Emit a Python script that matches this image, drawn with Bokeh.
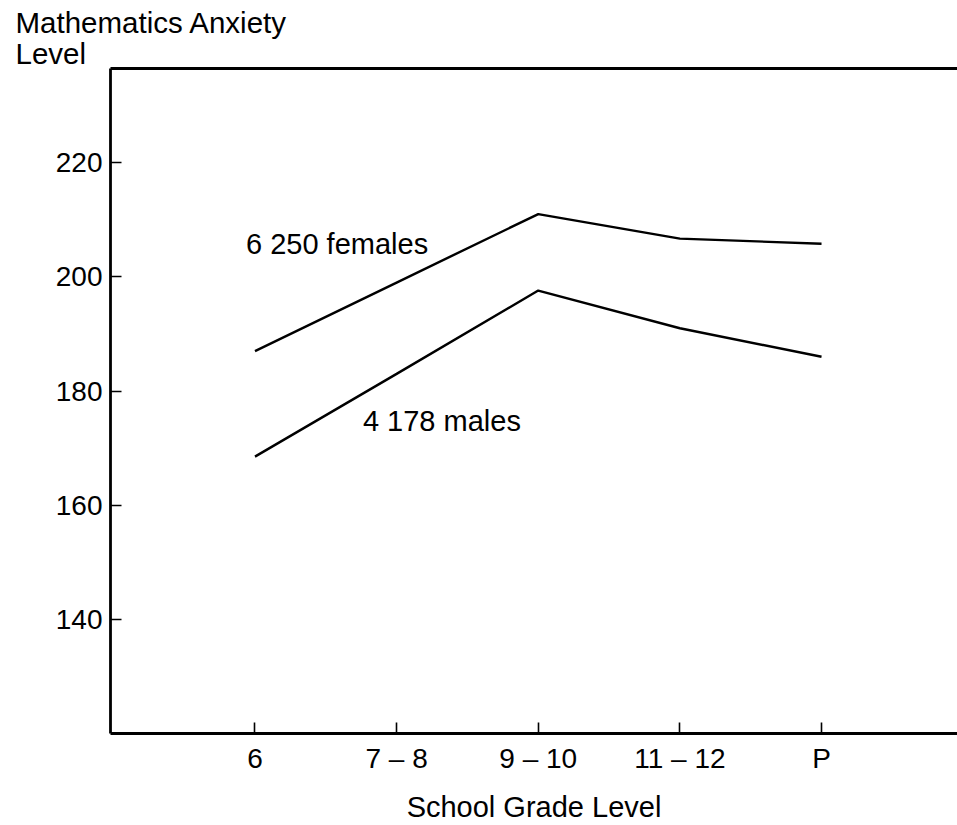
from bokeh.plotting import figure
from bokeh.models import Range1d, FixedTicker, LinearAxis, Label
from bokeh.embed import file_html
from bokeh.resources import INLINE

grades = ["6", "7 – 8", "9 – 10", "11 – 12", "P"]
females = [187, 199, 211, 206.7, 205.8]
males = [168.5, 183, 197.6, 191, 186]
y_ticks = [140, 160, 180, 200, 220]
female_label = "6 250 females"
male_label = "4 178 males"
y_title = "Mathematics Anxiety\nLevel"

FONT = "Liberation Sans"
xs = list(range(len(grades)))
X0, X1, Y0, Y1 = -1.02, 4.96, 120, 236.5

p = figure(width=957, height=825, output_backend="svg", toolbar_location=None,
           x_range=Range1d(X0, X1), y_range=Range1d(Y0, Y1),
           min_border_left=110, min_border_right=0, min_border_top=68, min_border_bottom=92)
p.grid.visible = False
p.outline_line_color = None
p.background_fill_color = "white"
p.border_fill_color = "white"

p.line(xs, females, line_color="black", line_width=2.4)
p.line(xs, males, line_color="black", line_width=2.4)

for ax in (p.xaxis[0], p.yaxis[0]):
    ax.axis_line_width = 2.8
    ax.axis_line_color = "black"
    ax.major_tick_in = 11
    ax.major_tick_out = 0
    ax.major_tick_line_width = 1.6
    ax.major_tick_line_color = "black"
    ax.minor_tick_line_color = None
    ax.major_label_text_font = FONT
    ax.major_label_text_font_size = "28px"
    ax.major_label_text_color = "black"

p.xaxis.ticker = FixedTicker(ticks=xs)
p.xaxis.major_label_overrides = {i: g for i, g in enumerate(grades)}
p.xaxis.major_label_standoff = 9
p.xaxis.axis_label = "School Grade Level"
p.xaxis.axis_label_text_font = FONT
p.xaxis.axis_label_text_font_style = "normal"
p.xaxis.axis_label_text_font_size = "29px"
p.xaxis.axis_label_text_color = "black"
p.xaxis.axis_label_standoff = 14

p.yaxis.ticker = FixedTicker(ticks=y_ticks)
p.yaxis.major_label_standoff = 8

top = LinearAxis(ticker=FixedTicker(ticks=[]), major_label_text_font_size="0px",
                 major_label_standoff=0, major_tick_in=0, major_tick_out=0,
                 axis_line_width=2.8, axis_line_color="black",
                 major_tick_line_color=None, minor_tick_line_color=None)
p.add_layout(top, "above")

p.title.text = y_title
p.title.align = "left"
p.title.offset = -95
p.title.standoff = -4
p.title.text_font = FONT
p.title.text_font_size = "29.5px"
p.title.text_font_style = "normal"
p.title.text_color = "black"
p.title.text_line_height = 0.95

p.add_layout(Label(x=0, y=205.8, x_offset=-9, text=female_label, text_font=FONT,
                   text_font_size="29px", text_baseline="alphabetic", text_align="left",
                   text_color="black"))
p.add_layout(Label(x=0.762, y=174.7, text=male_label, text_font=FONT,
                   text_font_size="29px", text_baseline="alphabetic", text_align="left",
                   text_color="black"))

open("out.html", "w").write(file_html(p, INLINE))
